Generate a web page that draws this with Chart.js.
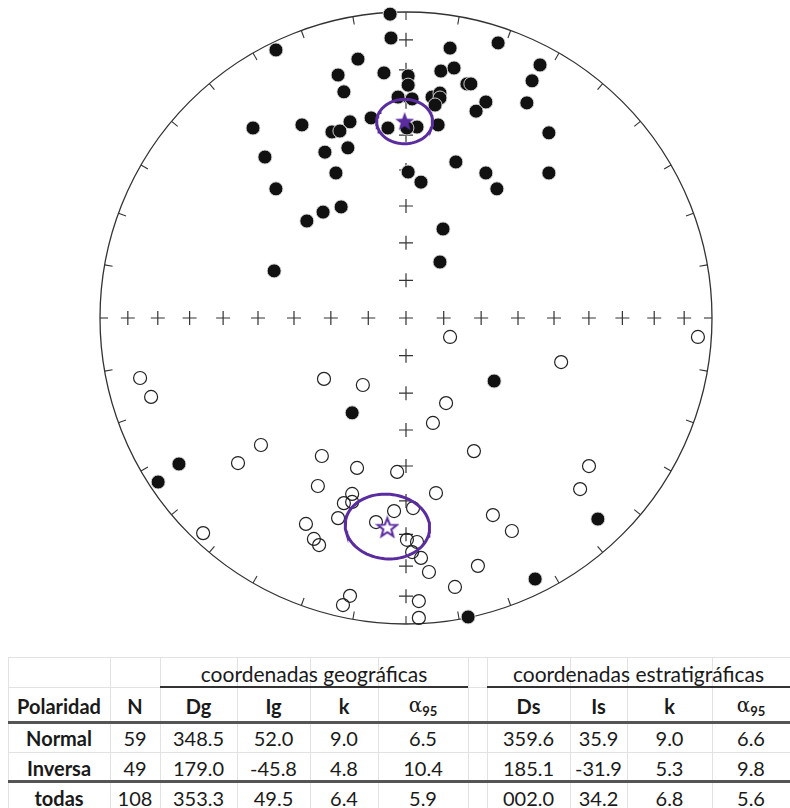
<!DOCTYPE html>
<html>
<head>
<meta charset="utf-8">
<script src="https://cdn.jsdelivr.net/npm/chart.js@4"></script>
<style>
  html, body { margin:0; padding:0; background:#fff; }
  #wrap { position:relative; width:790px; height:808px; overflow:hidden; font-family: Lato, "Open Sans", sans-serif; color:#1a1a1a; }
  #chartBox { position:absolute; left:0; top:0; width:790px; height:640px; }
  .t { position:absolute; transform:translate(-50%,-50%); white-space:nowrap; font-size:20px; line-height:1; }
  .h { font-size:21px; }
  .b { font-weight:700; }
  .ln { position:absolute; }
  .alpha { font-family: "DejaVu Serif", "Liberation Serif", serif; font-size:20px; font-weight:400; }
  .alpha sub { font-family: Lato, sans-serif; font-weight:700; font-size:13px; vertical-align:-4px; }
</style>
</head>
<body>
<div id="wrap">
  <div id="chartBox"><canvas id="c" width="790" height="640"></canvas></div>
  <div id="table"></div>
</div>
<script>
// ---------------- data ----------------
// Equal-area (Schmidt) projection coordinates (east, north) in units of the primitive radius
// filled = lower hemisphere (positive inclination)
const filledX = [-0.052,-0.049,-0.425,-0.157,-0.072,-0.222,-0.203,-0.026,-0.500,-0.340,-0.183,-0.114,-0.242,-0.216,-0.059,-0.461,-0.265,-0.190,-0.229,-0.425,-0.212,-0.271,-0.324,-0.431,0.144,0.301,0.007,0.007,0.114,0.157,0.199,0.212,0.020,0.085,0.111,0.111,0.095,0.261,0.229,0.438,0.412,0.395,0.105,0.036,0.003,0.467,0.163,0.007,0.049,0.261,0.297,0.467,0.121,0.111,-0.176,0.288,-0.742,-0.810,0.627,0.422,0.203];
const filledY = [0.993,0.915,0.876,0.846,0.801,0.794,0.739,0.722,0.621,0.631,0.641,0.654,0.608,0.611,0.621,0.526,0.542,0.556,0.474,0.422,0.363,0.346,0.317,0.154,0.882,0.899,0.791,0.761,0.807,0.817,0.765,0.765,0.716,0.722,0.735,0.719,0.696,0.706,0.676,0.827,0.775,0.703,0.631,0.624,0.621,0.605,0.510,0.477,0.444,0.474,0.422,0.474,0.291,0.183,-0.310,-0.206,-0.477,-0.536,-0.657,-0.853,-0.977];
// open = upper hemisphere (negative inclination)
const openX = [-0.869,-0.833,-0.268,-0.141,-0.474,-0.549,-0.275,-0.160,-0.029,-0.288,-0.176,-0.176,-0.203,-0.222,-0.327,-0.301,-0.284,-0.098,-0.039,-0.663,-0.183,-0.206,0.954,0.144,0.507,0.131,0.088,0.222,0.598,0.569,0.098,0.023,0.284,0.346,0.003,0.036,0.020,0.049,0.075,0.235,0.160,0.042,0.042];
const openY = [-0.196,-0.258,-0.199,-0.219,-0.415,-0.474,-0.451,-0.490,-0.503,-0.549,-0.575,-0.601,-0.605,-0.654,-0.673,-0.722,-0.742,-0.667,-0.631,-0.703,-0.908,-0.938,-0.062,-0.062,-0.144,-0.278,-0.343,-0.435,-0.484,-0.559,-0.572,-0.621,-0.644,-0.696,-0.725,-0.732,-0.765,-0.784,-0.830,-0.810,-0.879,-0.925,-0.980];

// table statistics
const polaridad = ['Normal','Inversa','todas'];
const nSitios   = [59, 49, 108];
const Dg   = [348.5, 179.0, 353.3];
const Ig   = [52.0, -45.8, 49.5];
const kg   = [9.0, 4.8, 6.4];
const a95g = [6.5, 10.4, 5.9];
const Ds   = [359.6, 185.1, 2.0];
const Is   = [35.9, -31.9, 34.2];
const ks   = [9.0, 5.3, 6.8];
const a95s = [6.6, 9.8, 5.6];

// graticule
const incTicks = [10,20,30,40,50,60,70,80,90];   // crosses along the N-S / E-W axes
const azTicks  = Array.from({length:36},(_,i)=>i*10); // perimeter ticks every 10°

// ---------------- helpers ----------------
const rad = d => d*Math.PI/180;
function project(dec, inc){
  const r = Math.SQRT2*Math.sin(rad((90-Math.abs(inc))/2));
  return {x: r*Math.sin(rad(dec)), y: r*Math.cos(rad(dec))};
}
function cone(dec, inc, a95){
  const D=rad(dec), I=rad(inc), a=rad(a95);
  const m=[Math.cos(I)*Math.cos(D), Math.cos(I)*Math.sin(D), Math.sin(I)];
  const u=[Math.sin(I)*Math.cos(D), Math.sin(I)*Math.sin(D), -Math.cos(I)];
  const v=[-Math.sin(D), Math.cos(D), 0];
  const pts=[];
  for(let t=0;t<=360;t+=4){
    const T=rad(t);
    const p=[0,1,2].map(k=>Math.cos(a)*m[k]+Math.sin(a)*(Math.cos(T)*u[k]+Math.sin(T)*v[k]));
    const inc2=Math.asin(Math.max(-1,Math.min(1,p[2])))*180/Math.PI;
    const dec2=Math.atan2(p[1],p[0])*180/Math.PI;
    pts.push(project(dec2,inc2));
  }
  return pts;
}
function starImage(fill, stroke, lw){
  const c=document.createElement('canvas'); c.width=24; c.height=24;
  const g=c.getContext('2d');
  g.beginPath();
  for(let i=0;i<10;i++){
    const r = i%2===0 ? 10 : 4.2;
    const ang = -Math.PI/2 + i*Math.PI/5;
    const px=12+r*Math.cos(ang), py=12.8+r*Math.sin(ang);
    i===0?g.moveTo(px,py):g.lineTo(px,py);
  }
  g.closePath();
  g.fillStyle=fill; g.fill();
  if(stroke){ g.strokeStyle=stroke; g.lineWidth=lw; g.lineJoin='miter'; g.stroke(); }
  return c;
}

const purple = '#5a2ca0';
const filledPts = filledX.map((x,i)=>({x, y:filledY[i]}));
const openPts = openX.map((x,i)=>({x, y:openY[i]}));
const crossPts = [];
incTicks.forEach(I=>{
  const r = Math.SQRT2*Math.sin(rad((90-I)/2));
  if(r<1e-6){ crossPts.push({x:0,y:0}); return; }
  crossPts.push({x:r,y:0},{x:-r,y:0},{x:0,y:r},{x:0,y:-r});
});
const starNormal = project(Ds[0], Is[0]);
const starInv = project(Ds[1], Is[1]);

const frame = {
  id:'frame',
  beforeDatasetsDraw(chart){
    const {ctx, scales:{x,y}} = chart;
    const cx=x.getPixelForValue(0), cy=y.getPixelForValue(0);
    const R=x.getPixelForValue(1)-cx;
    ctx.save();
    ctx.strokeStyle='#333'; ctx.lineWidth=1.3;
    ctx.beginPath(); ctx.arc(cx,cy,R,0,Math.PI*2); ctx.stroke();
    ctx.lineWidth=1.1;
    azTicks.forEach(az=>{
      const s=Math.sin(rad(az)), c=Math.cos(rad(az));
      ctx.beginPath();
      ctx.moveTo(cx+R*s, cy-R*c);
      ctx.lineTo(cx+(R-8)*s, cy-(R-8)*c);
      ctx.stroke();
    });
    ctx.restore();
  }
};

new Chart(document.getElementById('c'), {
  type:'scatter',
  data:{ datasets:[
    {label:'Normal media', data:[starNormal], pointStyle:starImage(purple,null,0), pointRadius:10, order:0, clip:false},
    {label:'Inversa media', data:[starInv], pointStyle:starImage('#ffffff',purple,2), pointRadius:10, order:0, clip:false},
    {label:'a95 N', data:cone(Ds[0],Is[0],a95s[0]), showLine:true, pointRadius:0, borderColor:purple, borderWidth:3, order:1, clip:false},
    {label:'a95 R', data:cone(Ds[1],Is[1],a95s[1]), showLine:true, pointRadius:0, borderColor:purple, borderWidth:3, order:1, clip:false},
    {label:'hemisferio inferior', data:filledPts, pointRadius:7, pointBackgroundColor:'#111', pointBorderColor:'rgba(225,225,225,0.9)', pointBorderWidth:1, order:2, clip:false},
    {label:'hemisferio superior', data:openPts, pointRadius:6.5, pointBackgroundColor:'rgba(255,255,255,0)', pointBorderColor:'#222', pointBorderWidth:1.2, order:3, clip:false},
    {label:'cruces', data:crossPts, pointStyle:'cross', pointRadius:7, pointBorderColor:'#333', pointBorderWidth:1.2, order:5, clip:false}
  ]},
  options:{
    responsive:false, animation:false,
    layout:{ padding:{left:100, right:78, top:12, bottom:16} },
    scales:{
      x:{ type:'linear', min:-1, max:1, display:false },
      y:{ type:'linear', min:-1, max:1, display:false }
    },
    plugins:{ legend:{display:false}, tooltip:{enabled:false} },
    events:[]
  },
  plugins:[frame]
});

// ---------------- table ----------------
const T = document.getElementById('table');
const colB = [8,110,160,237,310,378,468,487,570,627,712,790];
const rowB = [657,687,722,752,781,812];
const cen = i => (colB[i]+colB[i+1])/2;
const rowC = i => (rowB[i]+rowB[i+1])/2;
function line(x,y,w,h,color){
  const d=document.createElement('div'); d.className='ln';
  d.style.left=x+'px'; d.style.top=y+'px'; d.style.width=w+'px'; d.style.height=h+'px'; d.style.background=color;
  T.appendChild(d);
}
function txt(html, x, y, cls){
  const d=document.createElement('div'); d.className='t'+(cls?' '+cls:'');
  d.style.left=x+'px'; d.style.top=y+'px'; d.innerHTML=html; T.appendChild(d);
}
// light grid
colB.forEach(x=>line(x,rowB[0],1,rowB[5]-rowB[0],'#e2e2e2'));
line(8,rowB[0],782,1,'#e2e2e2');
line(8,rowB[1],782,1,'#e2e2e2');
line(8,rowB[3],782,1,'#e2e2e2');
// dark lines
line(colB[2],rowB[1]-1,colB[6]-colB[2],2,'#333');
line(colB[7],rowB[1]-1,colB[11]-colB[7],2,'#333');
line(8,rowB[2]-1,782,3,'#555');
line(8,rowB[4]-1,782,3,'#555');
// header row 1
txt('coordenadas geográficas', (colB[2]+colB[6])/2, rowC(0)+1, 'h');
txt('coordenadas estratigráficas', (colB[7]+colB[11])/2, rowC(0)+1, 'h');
// header row 2
const alpha = '<span class="alpha">α<sub>95</sub></span>';
const heads = ['Polaridad','N','Dg','Ig','k',alpha,'','Ds','Is','k',alpha];
heads.forEach((h,i)=>{ if(h) txt(h, cen(i), rowC(1)+1, h===alpha?'':'b'); });
// data rows
const fD = v => v.toFixed(1).padStart(5,'0');
const f1 = v => v.toFixed(1);
polaridad.forEach((p,r)=>{
  const vals=[p, String(nSitios[r]), fD(Dg[r]), f1(Ig[r]), f1(kg[r]), f1(a95g[r]), '', fD(Ds[r]), f1(Is[r]), f1(ks[r]), f1(a95s[r])];
  vals.forEach((v,i)=>{ if(v!=='') txt(v, cen(i), rowC(r+2)+1, i===0?'b':''); });
});
</script>
</body>
</html>
